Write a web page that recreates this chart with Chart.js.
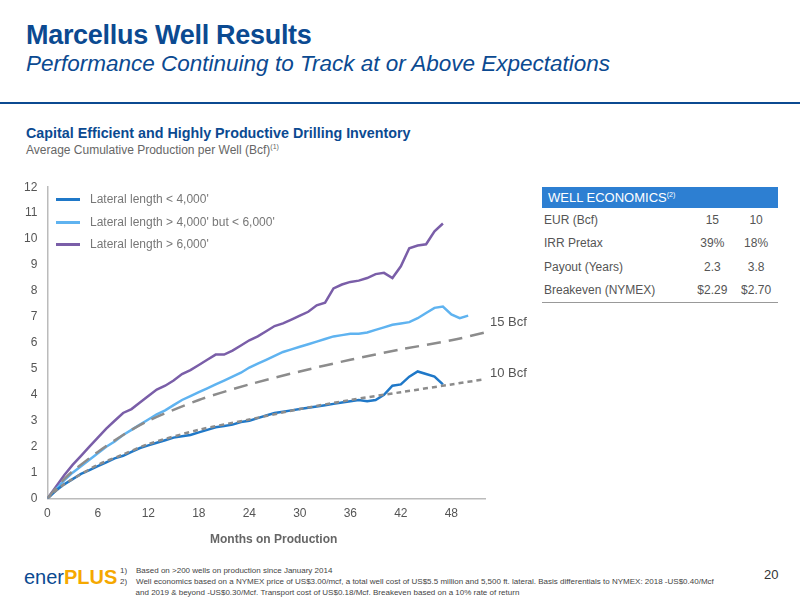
<!DOCTYPE html>
<html><head><meta charset="utf-8">
<script src="https://cdn.jsdelivr.net/npm/chart.js@4/dist/chart.umd.min.js"></script>
<style>
body{margin:0;width:800px;height:600px;position:relative;background:#fff;font-family:"Liberation Sans",Arial,sans-serif;overflow:hidden}
.a{position:absolute}
#t1{left:26px;top:20px;font-size:27px;font-weight:bold;color:#0b4a91;letter-spacing:-0.3px}
#t2{left:26px;top:51px;font-size:22.5px;font-style:italic;color:#0b4a91}
#rule{left:0;top:102px;width:800px;height:2px;background:#0b4a91}
#s1{left:26px;top:125px;font-size:14.3px;font-weight:bold;color:#0b4a91}
#s2{left:26px;top:143px;font-size:12px;color:#666}
sup{font-size:7px}
#cw{left:0;top:170px;width:520px;height:390px}
.lg{position:absolute;left:56px;font-size:12px;color:#777;display:flex;align-items:center}
.lg i{display:inline-block;width:24px;height:3px;margin-right:10px}
table{position:absolute;left:542px;top:187px;width:236px;border-collapse:collapse;font-size:12px;color:#555}
th{background:#2d7fd2;color:#fff;font-weight:normal;text-align:left;padding:3px 6px;font-size:13px}
td{height:23.5px;padding:0 2px}
td.c{text-align:center}
#foot{left:120px;top:565px;font-size:8px;color:#444;line-height:11px}
#logo{left:24px;top:566px;font-size:20px;color:#0b4a91}
#pg{left:764px;top:567px;font-size:13px;color:#333}
.bl{position:absolute;font-size:13px;color:#555}
#xt{left:210px;top:532px;font-size:12px;font-weight:bold;color:#666}
</style></head><body>
<div class="a" id="t1">Marcellus Well Results</div>
<div class="a" id="t2">Performance Continuing to Track at or Above Expectations</div>
<div class="a" id="rule"></div>
<div class="a" id="s1">Capital Efficient and Highly Productive Drilling Inventory</div>
<div class="a" id="s2">Average Cumulative Production per Well (Bcf)<sup>(1)</sup></div>
<div class="a" id="cw"><canvas id="c"></canvas></div>
<div class="lg" style="top:192px"><i style="background:#1f78c8"></i>Lateral length &lt; 4,000'</div>
<div class="lg" style="top:215px"><i style="background:#5fb3f0"></i>Lateral length &gt; 4,000' but &lt; 6,000'</div>
<div class="lg" style="top:237px"><i style="background:#7a5ea8"></i>Lateral length &gt; 6,000'</div>
<div class="bl" style="left:490px;top:314px">15 Bcf</div>
<div class="bl" style="left:490px;top:365px">10 Bcf</div>
<div class="a" id="xt">Months on Production</div>
<table>
<tr><th colspan="3">WELL ECONOMICS<sup>(2)</sup></th></tr>
<tr><td>EUR (Bcf)</td><td class="c">15</td><td class="c">10</td></tr>
<tr><td>IRR Pretax</td><td class="c">39%</td><td class="c">18%</td></tr>
<tr><td>Payout (Years)</td><td class="c">2.3</td><td class="c">3.8</td></tr>
<tr style="border-bottom:1px solid #999"><td>Breakeven (NYMEX)</td><td class="c">$2.29</td><td class="c">$2.70</td></tr>
</table>
<div class="a" id="logo">ener<b style="color:#f5a800">PLUS</b></div>
<div class="a" id="foot">1)&nbsp;&nbsp;&nbsp;&nbsp;Based on &gt;200 wells on production since January 2014<br>2)&nbsp;&nbsp;&nbsp;&nbsp;Well economics based on a NYMEX price of US$3.00/mcf, a total well cost of US$5.5 million and 5,500 ft. lateral. Basis differentials to NYMEX: 2018 -US$0.40/Mcf<br>&nbsp;&nbsp;&nbsp;&nbsp;&nbsp;&nbsp;&nbsp;and 2019 &amp; beyond -US$0.30/Mcf. Transport cost of US$0.18/Mcf. Breakeven based on a 10% rate of return</div>
<div class="a" id="pg">20</div>
<script>
const xTicks=[0,6,12,18,24,30,36,42,48];
const shortLat=[0,0.3,0.55,0.75,0.95,1.1,1.25,1.4,1.55,1.65,1.8,1.95,2.05,2.15,2.25,2.35,2.4,2.45,2.55,2.65,2.75,2.8,2.85,2.95,3.0,3.1,3.2,3.3,3.35,3.4,3.45,3.5,3.55,3.6,3.65,3.7,3.75,3.8,3.75,3.8,4.0,4.35,4.4,4.7,4.9,4.8,4.7,4.4];
const midLat=[0,0.35,0.7,1.0,1.25,1.5,1.75,2.0,2.2,2.45,2.65,2.85,3.05,3.25,3.4,3.6,3.8,3.95,4.1,4.25,4.4,4.55,4.7,4.85,5.05,5.2,5.35,5.5,5.65,5.75,5.85,5.95,6.05,6.15,6.25,6.3,6.35,6.35,6.4,6.5,6.6,6.7,6.75,6.8,6.95,7.15,7.35,7.4,7.1,6.95,7.05];
const longLat=[0,0.45,0.9,1.3,1.65,2.0,2.35,2.7,3.0,3.3,3.45,3.7,3.95,4.2,4.35,4.55,4.8,4.95,5.15,5.35,5.55,5.55,5.7,5.9,6.1,6.25,6.45,6.65,6.75,6.9,7.05,7.2,7.45,7.55,8.1,8.25,8.35,8.4,8.5,8.65,8.7,8.5,8.95,9.65,9.75,9.8,10.3,10.6];
const typeMonths=[0,1,2,3,6,9,12,18,24,30,36,42,48,52];
const type15=[0,0.4,0.75,1.05,1.8,2.45,3.0,3.8,4.4,4.9,5.35,5.75,6.1,6.4];
const type10=[0,0.3,0.55,0.75,1.3,1.7,2.1,2.65,3.05,3.45,3.8,4.1,4.4,4.6];
const pts=a=>a.map((v,i)=>({x:i,y:v}));
const tpts=a=>a.map((v,i)=>({x:typeMonths[i],y:v}));
new Chart(document.getElementById('c'),{type:'line',
data:{datasets:[
{data:tpts(type15),borderColor:'#8c8c8c',borderDash:[14,8],borderWidth:2.5,pointRadius:0,tension:0.3},
{data:tpts(type10),borderColor:'#8c8c8c',borderDash:[5,4],borderWidth:2.5,pointRadius:0,tension:0.3},
{data:pts(shortLat),borderColor:'#1f78c8',borderWidth:2.5,pointRadius:0},
{data:pts(midLat),borderColor:'#5fb3f0',borderWidth:2.5,pointRadius:0},
{data:pts(longLat),borderColor:'#7a5ea8',borderWidth:2.5,pointRadius:0}]},
options:{responsive:true,maintainAspectRatio:false,animation:false,
layout:{padding:{top:5,right:35,bottom:31,left:14}},
plugins:{legend:{display:false},tooltip:{enabled:false}},
scales:{x:{type:'linear',min:0,max:52,afterBuildTicks:s=>{s.ticks=xTicks.map(v=>({value:v}))},
 grid:{display:false,drawTicks:false},border:{color:'#bbb',width:1.5},ticks:{color:'#555',font:{size:12},padding:8}},
y:{min:0,max:12,ticks:{stepSize:1,color:'#555',font:{size:12},padding:10},grid:{display:false,drawTicks:false},border:{color:'#bbb',width:1.5}}}}});
</script>
</body></html>
